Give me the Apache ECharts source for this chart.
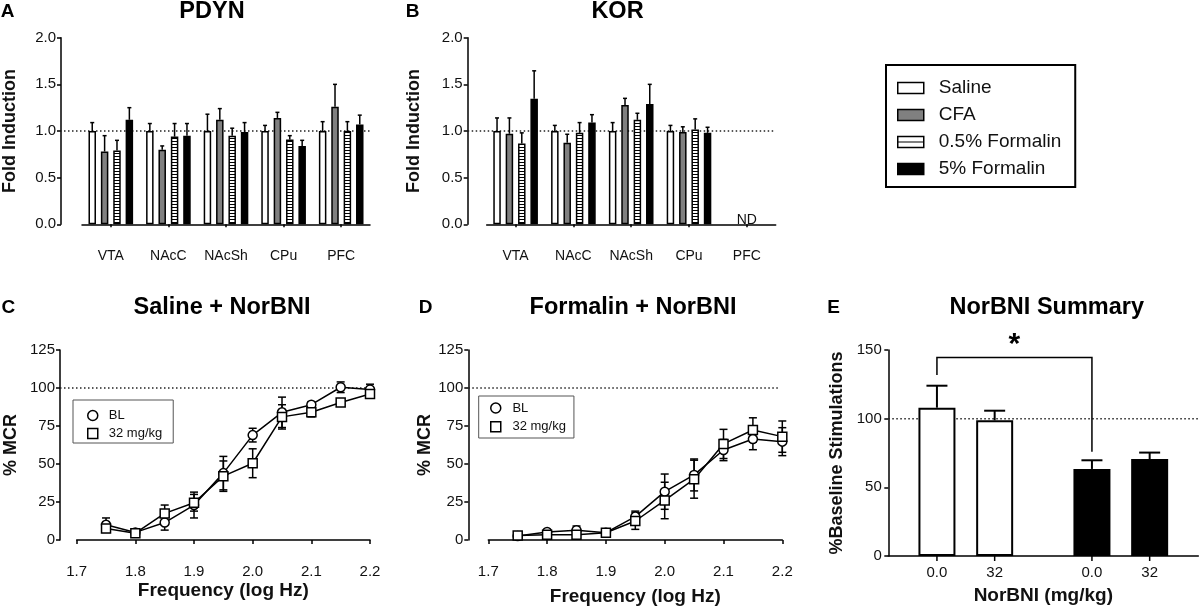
<!DOCTYPE html>
<html><head><meta charset="utf-8">
<script src="https://cdn.jsdelivr.net/npm/echarts@6/dist/echarts.min.js"></script>
<style>html,body{margin:0;padding:0;background:#fff}#chart{width:1200px;height:608px}</style>
</head><body><div id="chart"></div>
<script>
const FONT = 'Liberation Sans, Arial, Helvetica, sans-serif';
const TXT = '#111';

// ---------- Panels A / B : fold induction ----------
const regions = ['VTA', 'NAcC', 'NAcSh', 'CPu', 'PFC'];
const groups = ['Saline', 'CFA', '0.5% Formalin', '5% Formalin'];

const pdynSaline    = [1.00, 1.00, 1.00, 1.00, 1.00];
const pdynSalineErr = [0.09, 0.08, 0.18, 0.06, 0.10];
const pdynCFA       = [0.78, 0.80, 1.12, 1.14, 1.26];
const pdynCFAErr    = [0.17, 0.04, 0.12, 0.06, 0.24];
const pdynForm05    = [0.79, 0.94, 0.95, 0.91, 1.00];
const pdynForm05Err = [0.11, 0.14, 0.08, 0.04, 0.10];
const pdynForm5     = [1.12, 0.95, 0.99, 0.84, 1.07];
const pdynForm5Err  = [0.13, 0.13, 0.10, 0.06, 0.10];

const korSaline    = [1.00, 1.00, 1.00, 1.00, null];
const korSalineErr = [0.14, 0.06, 0.09, 0.06, null];
const korCFA       = [0.97, 0.875, 1.28, 0.99, null];
const korCFAErr    = [0.17, 0.09, 0.07, 0.055, null];
const korForm05    = [0.865, 0.98, 1.12, 1.015, null];
const korForm05Err = [0.115, 0.11, 0.07, 0.115, null];
const korForm5     = [1.345, 1.09, 1.29, 0.98, null];
const korForm5Err  = [0.30, 0.085, 0.21, 0.06, null];
const korNotDetected = ['PFC'];
const foldReference = 1.0;

// ---------- Panels C / D : % MCR ----------
const freqLogHz = [1.75, 1.80, 1.85, 1.90, 1.95, 2.00, 2.05, 2.10, 2.15, 2.20];
const salBL     = [10, 5, 11.5, 23, 44, 69, 84, 89, 100.5, 99];
const salBLErr  = [4.5, 1.5, 5, 8.5, 11, 4.5, 10, 2, 3.5, 3.5];
const sal32     = [7.5, 4.5, 17.5, 24.5, 42, 50.5, 81, 84, 90.5, 96];
const sal32Err  = [2.5, 1.5, 5.5, 5.5, 10, 9.5, 8, 3, 2, 2];
const forBL     = [2.6, 5.3, 6.4, 4.8, 15.4, 31.8, 42.8, 59.2, 66.4, 64.7];
const forBLErr  = [1, 1, 2.8, 1, 3.6, 11.6, 10.5, 7, 7, 9.2];
const for32     = [3, 3.5, 3.5, 4.8, 12.5, 26, 40, 63.2, 72.4, 68];
const for32Err  = [1, 1, 1.5, 1, 5.5, 12, 12.5, 9.6, 8, 10.3];
const mcrReference = 100;

// ---------- Panel E : NorBNI summary ----------
const eTreatments = ['Saline', 'Formalin'];
const eDoseLabels = ['0.0', '32'];
const eDose0    = [108, 63.4];
const eDose0Err = [16, 6.3];
const eDose32    = [98.8, 70.6];
const eDose32Err = [7, 4.7];
const eBracket = [131.8, 144.5, 76]; // left foot, top, right foot
const eReference = 100;

// ---------- styling helpers ----------
function makeStripe(w, h, lineY) {
  const c = document.createElement('canvas');
  c.width = w; c.height = h;
  const ctx = c.getContext('2d');
  ctx.fillStyle = '#fff'; ctx.fillRect(0, 0, w, h);
  ctx.fillStyle = '#000'; ctx.fillRect(0, lineY, w, 1);
  return { image: c, repeat: 'repeat' };
}
const stripeFill = makeStripe(4, 3, 0);
const legendStripeFill = makeStripe(4, 11, 5);

const barFills = ['#ffffff', '#808080', stripeFill, '#000000'];
const axisLine = { show: true, lineStyle: { color: '#000', width: 1.5 } };
const axisTick = (len, extra) => Object.assign({ show: true, length: len, lineStyle: { color: '#000', width: 1.5 } }, extra || {});
const nameStyle = (size) => ({ fontSize: size, fontWeight: 'bold', color: TXT, fontFamily: FONT });
const refStyle = { color: '#222', width: 1.5, type: [1.5, 2.5] };

const aBarWidth = 7.5, aBarGap = 0.65, aSlot = aBarWidth * (1 + aBarGap);
const eBarWidth = 37, eBarGap = 0.56, eSlot = eBarWidth * (1 + eBarGap);

const pdynMeans = [pdynSaline, pdynCFA, pdynForm05, pdynForm5];
const pdynErrs = [pdynSalineErr, pdynCFAErr, pdynForm05Err, pdynForm5Err];
const korMeans = [korSaline, korCFA, korForm05, korForm5];
const korErrs = [korSalineErr, korCFAErr, korForm05Err, korForm5Err];

function errData(means, errs) {
  const out = [];
  means.forEach((arr, g) => arr.forEach((m, c) => { if (m != null) out.push([c, m, errs[g][c], g]); }));
  return out;
}
function barErrRender(slot, nGroups, capHalf, lw) {
  return function (params, api) {
    const c = api.value(0), m = api.value(1), e = api.value(2), g = api.value(3);
    const p = api.coord([c, m]);
    const t = api.coord([c, m + e]);
    const x = p[0] + (g - (nGroups - 1) / 2) * slot;
    const st = { stroke: '#000', lineWidth: lw };
    return { type: 'group', children: [
      { type: 'line', shape: { x1: x, y1: p[1], x2: x, y2: t[1] }, style: st },
      { type: 'line', shape: { x1: x - capHalf, y1: t[1], x2: x + capHalf, y2: t[1] }, style: st }
    ] };
  };
}
function symErrRender(params, api) {
  const x = api.value(0), m = api.value(1), e = api.value(2);
  const hi = api.coord([x, m + e]), lo = api.coord([x, m - e]);
  const px = hi[0], cap = 4;
  const st = { stroke: '#000', lineWidth: 1.5 };
  return { type: 'group', children: [
    { type: 'line', shape: { x1: px, y1: lo[1], x2: px, y2: hi[1] }, style: st },
    { type: 'line', shape: { x1: px - cap, y1: hi[1], x2: px + cap, y2: hi[1] }, style: st },
    { type: 'line', shape: { x1: px - cap, y1: lo[1], x2: px + cap, y2: lo[1] }, style: st }
  ] };
}
const zip = (xs, ys) => xs.map((x, i) => [x, ys[i]]);
const zip3 = (xs, ys, es) => xs.map((x, i) => [x, ys[i], es[i]]);

function refLine(idx, v) {
  return { type: 'line', name: 'ref' + idx, xAxisIndex: idx, yAxisIndex: idx, data: [[0, v], [1, v]],
    symbol: 'none', silent: true, z: 1, lineStyle: refStyle };
}
function hiddenX(idx) { return { type: 'value', gridIndex: idx, min: 0, max: 1, show: false }; }
function hiddenY(idx, max) { return { type: 'value', gridIndex: idx, min: 0, max: max, show: false }; }

function foldX(gi) {
  return { type: 'category', gridIndex: gi, data: regions, offset: 19, axisLine: axisLine,
    axisTick: axisTick(3, { alignWithLabel: true }),
    axisLabel: { fontSize: 14, margin: 6, color: TXT, fontFamily: FONT }, splitLine: { show: false } };
}
function foldY(gi, offset, gap) {
  return { type: 'value', gridIndex: gi, min: 0, max: 2, interval: 0.5, offset: offset,
    name: 'Fold Induction', nameLocation: 'middle', nameRotate: 90, nameGap: gap, nameTextStyle: nameStyle(18),
    axisLine: axisLine, axisTick: axisTick(4),
    axisLabel: { fontSize: 15, margin: 5, color: TXT, fontFamily: FONT, formatter: v => v.toFixed(1) },
    splitLine: { show: false } };
}
function freqX(gi, gap) {
  return { type: 'value', gridIndex: gi, min: 1.7, max: 2.2, interval: 0.1, offset: 16,
    name: 'Frequency (log Hz)', nameLocation: 'middle', nameGap: gap, nameTextStyle: nameStyle(19),
    axisLine: axisLine, axisTick: axisTick(4),
    axisLabel: { fontSize: 15, margin: 8, color: TXT, fontFamily: FONT, formatter: v => v.toFixed(1) },
    splitLine: { show: false } };
}
function mcrY(gi, offset, gap) {
  return { type: 'value', gridIndex: gi, min: 0, max: 125, interval: 25, offset: offset,
    name: '% MCR', nameLocation: 'middle', nameRotate: 90, nameGap: gap, nameTextStyle: nameStyle(18),
    axisLine: axisLine, axisTick: axisTick(4),
    axisLabel: { fontSize: 15, margin: 5, color: TXT, fontFamily: FONT }, splitLine: { show: false } };
}

const barSeries = (means, xi) => groups.map((g, i) => ({
  type: 'bar', name: g, xAxisIndex: xi, yAxisIndex: xi, data: means[i], barWidth: aBarWidth,
  barGap: (aBarGap * 100) + '%', z: 2,
  itemStyle: { color: barFills[i], borderColor: '#000', borderWidth: 1.5 }
}));

const lineStyleOf = (sym) => ({
  symbol: sym, symbolSize: 9, z: 4,
  itemStyle: { color: '#fff', borderColor: '#000', borderWidth: 1.5 },
  lineStyle: { color: '#000', width: 1.5 }
});

const eErrData = [];
[eDose0, eDose32].forEach((arr, d) => arr.forEach((m, c) => eErrData.push([c, m, [eDose0Err, eDose32Err][d][c], d])));

const option = {
  animation: false,
  backgroundColor: '#fff',
  textStyle: { fontFamily: FONT },
  grid: [
    { left: 81, top: 37.7, width: 289, height: 186.6 },
    { left: 60, top: 37.7, width: 310, height: 186.6 },
    { left: 486.7, top: 37.7, width: 289, height: 186.6 },
    { left: 467.7, top: 37.7, width: 308, height: 186.6 },
    { left: 76.7, top: 350, width: 293.3, height: 190 },
    { left: 60, top: 350, width: 310, height: 190 },
    { left: 488.3, top: 350, width: 294, height: 190 },
    { left: 468.3, top: 350, width: 312, height: 190 },
    { left: 888.3, top: 350, width: 310, height: 206 },
    { left: 888.3, top: 350, width: 310, height: 206 }
  ],
  xAxis: [
    foldX(0), hiddenX(1), foldX(2), hiddenX(3),
    freqX(4, 25), hiddenX(5), freqX(6, 31), hiddenX(7),
    { type: 'category', gridIndex: 8, data: eTreatments, axisLine: axisLine, axisTick: { show: false },
      axisLabel: { show: false }, name: 'NorBNI (mg/kg)', nameLocation: 'middle', nameGap: 30,
      nameTextStyle: nameStyle(19) },
    hiddenX(9)
  ],
  yAxis: [
    foldY(0, 21, 42), hiddenY(1, 2), foldY(2, 19, 44.7), hiddenY(3, 2),
    mcrY(4, 16.7, 40), hiddenY(5, 125), mcrY(6, 20, 29), hiddenY(7, 125),
    { type: 'value', gridIndex: 8, min: 0, max: 150, interval: 50,
      name: '%Baseline Stimulations', nameLocation: 'middle', nameRotate: 90, nameGap: 42, nameTextStyle: nameStyle(18),
      axisLine: axisLine, axisTick: axisTick(4),
      axisLabel: { fontSize: 15, margin: 6.5, color: TXT, fontFamily: FONT }, splitLine: { show: false } },
    hiddenY(9, 150)
  ],
  legend: [
    { data: groups.map((g, i) => i === 2 ? { name: g, itemStyle: { color: legendStripeFill } } : { name: g }),
      left: 886, top: 65, orient: 'vertical', icon: 'rect', itemWidth: 26, itemHeight: 11, itemGap: 7,
      padding: [13, 14, 8, 11], borderColor: '#000', borderWidth: 2, selectedMode: false,
      itemStyle: { borderColor: '#000', borderWidth: 1.5 },
      textStyle: { fontSize: 19, color: TXT, fontFamily: FONT, lineHeight: 20, padding: [0, 0, 0, 10] } },
    { data: [{ name: 'BL', icon: 'circle' }, { name: '32 mg/kg', icon: 'rect' }],
      left: 73, top: 400, orient: 'vertical', itemWidth: 10, itemHeight: 10, itemGap: 3,
      padding: [8, 11, 2, 14], borderColor: '#555', borderWidth: 1, selectedMode: false,
      itemStyle: { color: '#fff', borderColor: '#000', borderWidth: 1.5 },
      textStyle: { fontSize: 13, color: TXT, fontFamily: FONT, lineHeight: 15, padding: [0, 0, 0, 6] } },
    { data: [{ name: 'BL', icon: 'circle' }, { name: '32 mg/kg', icon: 'rect' }],
      left: 478.7, top: 396, orient: 'vertical', itemWidth: 10, itemHeight: 10, itemGap: 3.7,
      padding: [4.5, 8, 3.8, 11.3], borderColor: '#555', borderWidth: 1, selectedMode: false,
      itemStyle: { color: '#fff', borderColor: '#000', borderWidth: 1.5 },
      textStyle: { fontSize: 13, color: TXT, fontFamily: FONT, lineHeight: 15, padding: [0, 0, 0, 6.7] } }
  ],
  graphic: [
    ['A', 7.5, 11.7, 19], ['PDYN', 212, 12, 23.5], ['B', 412.5, 11.7, 19], ['KOR', 617.5, 12, 23.5],
    ['C', 8.3, 307.5, 19], ['Saline + NorBNI', 222, 307.5, 23.5],
    ['D', 425.5, 307.5, 19], ['Formalin + NorBNI', 633, 308, 23.5],
    ['E', 833.5, 307.5, 19], ['NorBNI Summary', 1046.7, 308, 23.5]
  ].map(([t, x, y, s]) => ({ type: 'text', x: x, y: y, silent: true,
    style: { text: t, fill: '#000', font: 'bold ' + s + 'px ' + FONT, fontSize: s, fontWeight: 'bold', fontFamily: FONT,
      align: 'center', textAlign: 'center', verticalAlign: 'middle', textVerticalAlign: 'middle' } })),
  series: [
    refLine(1, foldReference), refLine(3, foldReference), refLine(5, mcrReference),
    refLine(7, mcrReference), refLine(9, eReference),
    ...barSeries(pdynMeans, 0),
    ...barSeries(korMeans, 2),
    { type: 'custom', name: 'errA', xAxisIndex: 0, yAxisIndex: 0, silent: true, z: 3,
      data: errData(pdynMeans, pdynErrs), encode: { x: 0, y: 1 }, renderItem: barErrRender(aSlot, groups.length, 2, 1.5) },
    { type: 'custom', name: 'errB', xAxisIndex: 2, yAxisIndex: 2, silent: true, z: 3,
      data: errData(korMeans, korErrs), encode: { x: 0, y: 1 }, renderItem: barErrRender(aSlot, groups.length, 2, 1.5) },
    { type: 'custom', name: 'ndB', xAxisIndex: 2, yAxisIndex: 2, silent: true, z: 3,
      data: korNotDetected.map(r => [regions.indexOf(r), 0]), encode: { x: 0, y: 1 },
      renderItem: (p, api) => { const pt = api.coord([api.value(0), api.value(1)]);
        return { type: 'text', x: pt[0], y: pt[1] + 2.5, style: { text: 'ND', fill: TXT, fontSize: 14, fontFamily: FONT,
          align: 'center', textAlign: 'center', verticalAlign: 'bottom', textVerticalAlign: 'bottom' } }; } },
    // C
    Object.assign({ type: 'line', name: 'BL', xAxisIndex: 4, yAxisIndex: 4, data: zip(freqLogHz, salBL) }, lineStyleOf('circle')),
    Object.assign({ type: 'line', name: '32 mg/kg', xAxisIndex: 4, yAxisIndex: 4, data: zip(freqLogHz, sal32) }, lineStyleOf('rect')),
    { type: 'custom', name: 'errC', xAxisIndex: 4, yAxisIndex: 4, silent: true, z: 3, encode: { x: 0, y: 1 },
      data: zip3(freqLogHz, salBL, salBLErr).concat(zip3(freqLogHz, sal32, sal32Err)), renderItem: symErrRender },
    // D
    Object.assign({ type: 'line', name: 'BL', xAxisIndex: 6, yAxisIndex: 6, data: zip(freqLogHz, forBL) }, lineStyleOf('circle')),
    Object.assign({ type: 'line', name: '32 mg/kg', xAxisIndex: 6, yAxisIndex: 6, data: zip(freqLogHz, for32) }, lineStyleOf('rect')),
    { type: 'custom', name: 'errD', xAxisIndex: 6, yAxisIndex: 6, silent: true, z: 3, encode: { x: 0, y: 1 },
      data: zip3(freqLogHz, forBL, forBLErr).concat(zip3(freqLogHz, for32, for32Err)), renderItem: symErrRender },
    // E
    ...[eDose0, eDose32].map((arr, d) => ({
      type: 'bar', name: 'dose ' + eDoseLabels[d], xAxisIndex: 8, yAxisIndex: 8, barWidth: eBarWidth,
      barGap: (eBarGap * 100) + '%', z: 2,
      data: arr.map((v, c) => ({ value: v, itemStyle: { color: c === 0 ? '#fff' : '#000', borderColor: '#000', borderWidth: 2 } })),
      label: { show: true, position: 'bottom', distance: 9, formatter: () => eDoseLabels[d], fontSize: 15, color: TXT, fontFamily: FONT }
    })),
    { type: 'custom', name: 'errE', xAxisIndex: 8, yAxisIndex: 8, silent: true, z: 3, encode: { x: 0, y: 1 },
      data: eErrData,
      renderItem: (params, api) => {
        const c = api.value(0), m = api.value(1), e = api.value(2), d = api.value(3);
        const p = api.coord([c, m]), t = api.coord([c, m + e]), z0 = api.coord([c, 0]);
        const x = p[0] + (d - 0.5) * eSlot;
        const st = { stroke: '#000', lineWidth: 2 };
        return { type: 'group', children: [
          { type: 'line', shape: { x1: x, y1: p[1], x2: x, y2: t[1] }, style: st },
          { type: 'line', shape: { x1: x - 10.5, y1: t[1], x2: x + 10.5, y2: t[1] }, style: st },
          { type: 'line', shape: { x1: x, y1: z0[1], x2: x, y2: z0[1] + 5 }, style: { stroke: '#000', lineWidth: 1.5 } }
        ] };
      } },
    { type: 'custom', name: 'sigE', xAxisIndex: 8, yAxisIndex: 8, silent: true, z: 3, encode: { x: 0, y: 3 },
      data: [[0, 1, eBracket[0], eBracket[1], eBracket[2]]],
      renderItem: (params, api) => {
        const off = -0.5 * eSlot;
        const l0 = api.coord([api.value(0), api.value(2)]), lt = api.coord([api.value(0), api.value(3)]);
        const r0 = api.coord([api.value(1), api.value(4)]), rt = api.coord([api.value(1), api.value(3)]);
        const pts = [[l0[0] + off, l0[1]], [lt[0] + off, lt[1]], [rt[0] + off, rt[1]], [r0[0] + off, r0[1]]];
        return { type: 'group', children: [
          { type: 'polyline', shape: { points: pts }, style: { stroke: '#000', lineWidth: 1.5, fill: null } },
          { type: 'text', x: (pts[1][0] + pts[2][0]) / 2, y: lt[1] + 2,
            style: { text: '*', fill: '#000', fontSize: 30, fontWeight: 'bold', fontFamily: FONT,
              align: 'center', textAlign: 'center', verticalAlign: 'bottom', textVerticalAlign: 'bottom' } }
        ] };
      } }
  ]
};

const chart = echarts.init(document.getElementById('chart'), null, { renderer: 'canvas' });
chart.setOption(option);
</script>
</body></html>
